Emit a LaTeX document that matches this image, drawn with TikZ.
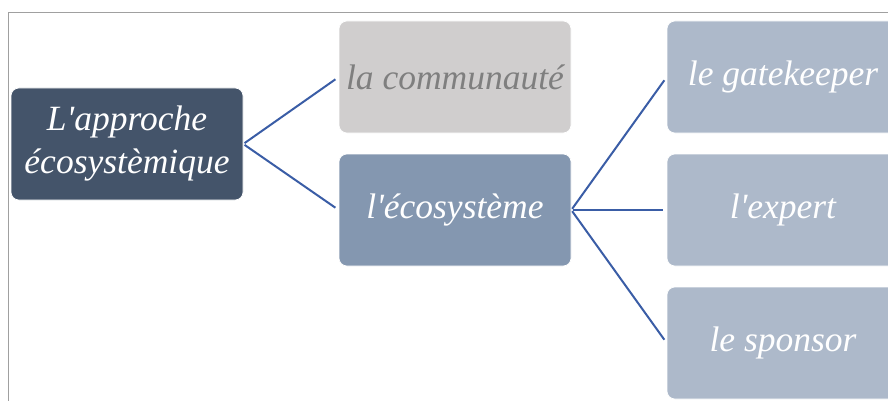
\documentclass[tikz,border=0pt]{standalone}
\usepackage{fontspec}
\newfontfamily\gar{Liberation Serif}
\definecolor{rootc}{HTML}{44546A}
\definecolor{commc}{HTML}{D0CECE}
\definecolor{commt}{HTML}{7F7F7F}
\definecolor{ecoc}{HTML}{8497B0}
\definecolor{leafc}{HTML}{ADB9CA}
\definecolor{linkc}{HTML}{3A5DA6}
\definecolor{framec}{HTML}{A0A0A0}
\begin{document}
\begin{tikzpicture}[x=1pt,y=-1pt,
  box/.style={rounded corners=8pt, minimum width=232pt, minimum height=112pt, inner sep=0pt,
    draw=white, line width=0.6pt, align=center, font=\gar\itshape\fontsize{35.5}{43}\selectfont, text=white},
  link/.style={draw=linkc, line width=2pt, shorten >=4pt, shorten <=1.5pt}]
\useasboundingbox (0,0) rectangle (888,401);
\clip (0,0) rectangle (888,401);
\draw[framec, line width=1pt] (8.5,401) -- (8.5,12.5) -- (888,12.5);
\node[box, fill=rootc] (root) at (127,144) {L'approche\\écosystèmique};
\node[box, fill=commc, text=commt] (comm) at (455,77) {la communauté};
\node[box, fill=ecoc] (eco) at (455,210) {l'écosystème};
\node[box, fill=leafc] (gate) at (783,77) {le gatekeeper};
\node[box, fill=leafc] (expert) at (783,210) {l'expert};
\node[box, fill=leafc] (spons) at (783,343) {le sponsor};
\draw[link] (root.east) -- (comm.west);
\draw[link] (root.east) -- (eco.west);
\draw[link] (eco.east) -- (gate.west);
\draw[link] (eco.east) -- (expert.west);
\draw[link] (eco.east) -- (spons.west);
\end{tikzpicture}
\end{document}
